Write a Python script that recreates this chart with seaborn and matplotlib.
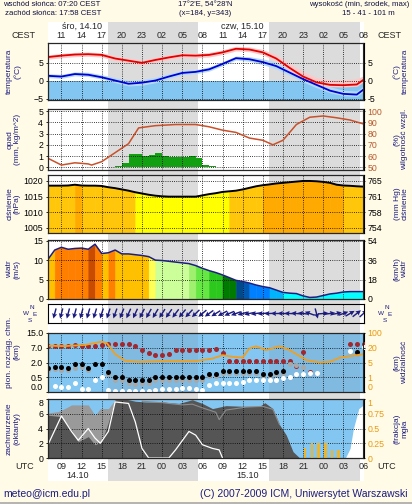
import numpy as np
import matplotlib
matplotlib.use("Agg")
import matplotlib.pyplot as plt
import matplotlib.transforms as mtransforms
from matplotlib.lines import Line2D
import seaborn as sns

sns.set_style("white")
plt.rcParams['font.family'] = ['Liberation Sans', 'DejaVu Sans']
plt.rcParams['font.size'] = 6.3
plt.rcParams['axes.linewidth'] = 0.8

# ------------------------------------------------------------------ data
night_start = [15.97, 39.97]
night_end = [29.4, 53.45]

tick_hours = list(range(9, 55, 3))
cest_labels = ['11', '14', '17', '20', '23', '02', '05', '08',
               '11', '14', '17', '20', '23', '02', '05', '08']
utc_labels = ['09', '12', '15', '18', '21', '00', '03', '06',
              '09', '12', '15', '18', '21', '00', '03', '06']
top_dates = ['śro, 14.10', 'czw, 15.10']
top_date_hours = [12, 36]
bottom_dates = ['14.10', '15.10']
bottom_date_hours = [11.4, 36.8]

# temperature panel
t_hours = [7, 9, 11, 13, 15, 17, 19, 21, 23, 25, 27, 29, 31, 33, 35, 37, 39, 41, 43, 45, 47, 49, 51, 53, 54]
t_air = [6.6, 7.0, 7.3, 7.4, 7.2, 6.2, 5.6, 5.0, 5.8, 6.5, 7.1, 7.0, 7.2, 7.9, 8.9, 8.7, 7.9, 6.2, 3.6, 1.2, -0.4, -1.1, -1.2, -1.0, 0.3]
t_air_hi = [7.2, 7.6, 7.9, 8.0, 7.8, 6.9, 6.3, 5.7, 6.5, 7.2, 7.7, 7.6, 7.9, 8.6, 9.6, 9.4, 8.7, 7.2, 4.8, 2.6, 0.9, 0.3, 0.3, 0.6, 1.4]
t_air_lo = [6.0, 6.4, 6.7, 6.8, 6.6, 5.6, 5.0, 4.4, 5.2, 5.9, 6.5, 6.4, 6.6, 7.3, 8.3, 8.1, 7.2, 5.5, 2.9, 0.4, -1.0, -1.6, -1.7, -1.5, -0.3]
t_dew = [1.4, 1.2, 1.9, 1.7, 1.0, 0.1, -0.8, -0.5, 0.1, 1.2, 2.2, 2.5, 3.2, 4.7, 6.3, 6.0, 5.2, 4.1, 2.3, 0.5, -1.1, -2.7, -3.6, -3.8, -2.4]
t_dew_hi = [2.0, 1.8, 2.5, 2.4, 1.7, 0.9, 0.2, 0.4, 1.0, 2.0, 2.9, 3.1, 3.9, 5.3, 6.9, 6.7, 6.1, 5.2, 3.4, 1.6, 0.0, -1.6, -2.6, -2.8, -1.4]
t_dew_lo = [0.9, 0.7, 1.4, 1.2, 0.5, -0.5, -1.4, -1.2, -0.5, 0.6, 1.7, 2.0, 2.7, 4.2, 5.8, 5.4, 4.5, 3.3, 1.5, -0.3, -1.9, -3.3, -4.1, -4.3, -3.0]

# precipitation / humidity
precip_hours = list(range(16, 36))
precip = [0.05, 0.1, 0.4, 1.15, 1.15, 1.0, 1.1, 1.25, 1.0, 0.9, 0.9, 0.95, 1.0, 0.8, 0.2, 0.15, 0.07, 0.07, 0.07, 0.07]
hum_hours = [7, 9, 11, 13, 13.5, 15, 17, 19, 20.5, 23, 26, 29, 31, 33, 35, 37, 39, 40.5, 42, 44, 46, 48, 50, 52, 54]
humidity = [58, 52, 54, 53, 52, 55, 63, 71, 85, 87, 88, 88, 86, 83, 81, 76, 74, 70, 74, 88, 94.5, 95.6, 94, 92, 88.5]

# pressure (hPa), hourly 07..54
pres_hours = list(range(7, 55))
pressure = [1018.5, 1018.5, 1018.5, 1018.55, 1018.8, 1018.55, 1018.5, 1018.5, 1018.4, 1018.0,
            1017.7, 1017.3, 1016.9, 1016.4, 1016.0, 1015.6, 1015.3, 1015.1, 1015.0, 1015.0,
            1015.0, 1015.0, 1015.0, 1015.4, 1015.8, 1016.1, 1016.5, 1016.7, 1016.9, 1017.3,
            1017.8, 1018.3, 1018.65, 1018.9, 1019.2, 1019.4, 1019.6, 1019.8, 1020.0, 1020.0,
            1019.9, 1019.7, 1019.4, 1018.8, 1018.55, 1018.45, 1018.3, 1018.2]

# wind speed (m/s), hourly 07..54
wind_hours = list(range(7, 55))
wind = [10.2, 12.6, 13.3, 12.8, 13.0, 13.1, 12.8, 14.1, 11.7, 11.9, 12.6, 11.6, 11.6, 11.4, 11.2, 10.9,
        10.0, 9.9, 9.7, 9.5, 9.3, 9.1, 8.6, 7.9, 7.3, 6.8, 6.2, 5.5, 4.8, 4.5, 4.1, 3.6,
        3.2, 2.9, 2.3, 1.7, 1.5, 1.4, 0.8, 0.4, 0.5, 0.9, 1.3, 1.5, 1.8, 1.9, 1.9, 1.9]
wind_bins = [2.0, 3.0, 4.2, 4.5, 5.0, 6.2, 7.5, 8.5, 9.0, 10.0, 11.0, 12.2, 13.4]
wind_cols = ['#00FFFF', '#00B4FF', '#0080FF', '#0058B0', '#004A8C', '#007A00', '#2DC81E',
             '#66E844', '#A0F070', '#CCFF99', '#FFFF55', '#FFC000', '#FF7F00', '#C84B00']

# wind direction (deg, from), hourly 08..54
dir_hours = list(range(8, 55))
wind_dir = [15, 15, 15, 15, 15, 16, 17, 18, 18, 20, 22, 24, 25, 27, 29, 31, 33, 35, 37, 40,
            43, 46, 50, 54, 58, 62, 66, 70, 74, 78, 82, 85, 88, 90, 92, 93, 95, 97, 110, 345,
            265, 262, 258, 250, 240, 232, 228]

# cloud base / vertical extent (km), hourly 07..54
nan = np.nan
cb_hours = list(range(7, 55))
cb_levels = [0.0, 0.5, 2.0, 7.0, 15.0]
cb_labels = ['0.0', '0.5', '2.0', '7.0', '15.0']
cloud_top = [8.0, 8.2, 8.0, 7.7, 8.6, 8.2, 7.7, 8.2, 8.5, 9.2, 9.2, 9.2, 8.8, 8.0, 6.3, 5.1,
             4.6, 4.6, 4.8, 6.1, 6.3, 6.3, 6.3, 6.1, 6.3, 6.5, 5.1, 2.5, 2.5, 2.5, 2.5, 2.5,
             2.5, 2.5, 2.5, 2.5, 2.5, 1.64, 5.6, 1.06, nan, nan, nan, nan, nan, 9.0, 9.2, 9.2]
cloud_base = [1.47, 1.57, 1.5, 1.4, 1.81, 1.81, 1.4, 1.81, 1.81, 1.06, 0.54, 0.54, 0.4, 0.4, 0.4, 0.42,
              0.54, 0.54, 0.54, 0.54, 0.54, 0.54, 0.54, 0.54, 0.78, 0.78, 1.16, 1.16, 1.16, 1.16, 1.16, 1.16,
              0.78, 0.78, 1.06, 1.16, nan, nan, nan, nan, nan, nan, nan, nan, nan, nan, 5.6, nan]
cloud_base2 = [1.25, 1.3, 1.25, 1.2, 1.45, 1.5, 1.2, nan, nan, 0.8, 0.4, 0.4, 0.3, 0.28, 0.3, 0.3,
               0.42, 0.42, 0.42, 0.42, 0.42, 0.42, 0.42, 0.42, 0.6, 0.6, 0.9, 0.9, 0.9, 0.9, 0.9, 0.9,
               0.62, 0.62, 0.85, 0.95, 1.85, 1.7, 1.5, nan, nan, nan, nan, nan, nan, nan, 5.0, nan]
cloud_low = [nan, 0.19, 0.17, 0.17, 0.29, 0.11, 0.11, 0.4, 0.51, 0.057, 0.023, 0.023, 0.023, 0.023, 0.03, 0.023,
             0.057, 0.114, 0.114, 0.114, 0.137, 0.137, 0.114, 0.08, 0.23, 0.29, 0.29, 0.29, 0.29, 0.34, 0.4, 0.4,
             0.4, 0.4, 0.4, 0.46, 0.51, 0.82, 0.82, 0.89, 0.89, nan, nan, nan, nan, 6.0, nan, 7.5]
vis_levels = [0, 1, 5, 20, 100]
vis_hours = [7, 9.5, 12.5, 15, 15.8, 17, 18.5, 20.5, 24, 29, 31.5, 33, 34.5, 36, 37, 38, 39.5, 41.5, 43, 45.5, 47.5, 49, 50.5, 54]
visibility = [31, 29, 35, 53, 44, 13.5, 6.7, 5.7, 6.4, 6.4, 9, 12.5, 10.8, 10, 19.3, 28, 17.6, 28, 17.6, 7.4, 5, 5.7, 10, 13.5]

# cloud cover (octants)
cov_low_hours = [7, 9, 10.5, 11.5, 13, 14, 15, 16, 17, 18.5, 20, 21.5, 24, 26.5, 28.5, 30, 31.5, 33.5, 36.5, 38.5, 39.3, 40.5, 41.5, 42.5, 43.5, 44.5, 54]
cov_low = [5.8, 5.6, 3.8, 2.2, 2.9, 1.8, 2.2, 4.9, 7.9, 8.0, 7.7, 7.6, 7.6, 7.4, 7.9, 7.4, 6.7, 7.1, 7.0, 7.0, 7.5, 6.7, 4.5, 3.1, 0.86, 0.0, 0.0]
cov_tot_hours = [7, 8.5, 9.5, 10.5, 13, 14, 14.8, 16, 17, 18.5]
cov_tot = [6.1, 6.3, 6.7, 7.2, 7.2, 5.8, 6.7, 6.7, 7.9, 8.0]
cov_mid_hours = [21, 24, 27, 28.5, 30, 32, 32.5, 33.5, 36.5, 39, 40.5, 41.5]
cov_mid = [7.7, 7.5, 7.2, 7.3, 6.8, 6.2, 5.2, 6.5, 6.9, 7.0, 6.6, 4.5]
cov_white_hours = [7, 9, 10.5, 11.5, 13, 14, 14.8, 16, 17, 19, 20, 21, 22, 25, 26, 28, 29, 30, 31.5, 32.5, 33]
cov_white = [1.8, 5.7, 3.6, 2.4, 4.0, 2.7, 2.0, 3.6, 7.6, 7.4, 4.9, 1.3, 0.0, 0.0, 1.1, 3.6, 3.1, 1.8, 1.3, 1.1, 0.0]
snow_hours = [51.3, 52, 52.5, 53.3, 54]
snow = [0.0, 1.3, 4.0, 6.7, 7.2]
fog_hours = [45.3, 46.3, 47.3, 48.3, 49.3, 50.3]
fog = [0.17, 0.25, 0.25, 0.25, 0.14, 0.14]

for a, b in [(t_hours, t_air), (t_hours, t_dew), (t_hours, t_air_hi), (t_hours, t_air_lo),
             (t_hours, t_dew_hi), (t_hours, t_dew_lo), (precip_hours, precip), (hum_hours, humidity),
             (pres_hours, pressure), (wind_hours, wind), (dir_hours, wind_dir), (cb_hours, cloud_top),
             (cb_hours, cloud_base), (cb_hours, cloud_base2), (cb_hours, cloud_low), (vis_hours, visibility),
             (cov_low_hours, cov_low), (cov_tot_hours, cov_tot), (cov_mid_hours, cov_mid),
             (cov_white_hours, cov_white), (snow_hours, snow), (fog_hours, fog)]:
    assert len(a) == len(b), (len(a), len(b))

# ------------------------------------------------------------------ layout
W, H = 412, 504
BG = '#FFFBE7'
NAVY = '#1C1C80'
NIGHT = '#DCDCDC'
SKY = '#84C6F2'
L, R = 48, 363.5
XL = (7, 54)

fig = plt.figure(figsize=(W / 100, H / 100), dpi=100, facecolor=BG)


def px_ax(top, bottom):
    return fig.add_axes([L / W, 1 - bottom / H, (R - L) / W, (bottom - top) / H])


def yf(py):
    return 1 - py / H


def setup(ax, ylim, yticks, labels=None):
    ax.set_xlim(*XL)
    ax.set_ylim(*ylim)
    ax.set_xticks(tick_hours)
    ax.set_xticklabels([])
    ax.set_yticks(yticks)
    if labels is not None:
        ax.set_yticklabels(labels)
    ax.tick_params(axis='x', length=0)
    ax.tick_params(axis='y', length=1.5, width=0.6, pad=2, labelsize=6.3, colors='black')
    ax.grid(True, color='black', linestyle=(0, (1, 1.6)), linewidth=0.6)
    ax.set_axisbelow('line')
    for s in ax.spines.values():
        s.set_visible(True)
        s.set_color('black')
        s.set_linewidth(0.8)
    ax.set_xlabel('')
    ax.set_ylabel('')


def twin(ax, ylim, yticks, labels, color='black'):
    t = ax.twinx()
    t.set_ylim(*ylim)
    t.set_yticks(yticks)
    t.set_yticklabels(labels)
    t.tick_params(axis='y', length=1.5, width=0.6, pad=1.5, labelsize=6.3,
                  labelcolor=color, color='black')
    t.grid(False)
    return t


# background column (day white / night grey)
ax_bg = px_ax(22, 481)
ax_bg.set_facecolor('white')
ax_bg.set_xlim(*XL)
ax_bg.set_ylim(0, 1)
ax_bg.set_xticks([])
ax_bg.set_yticks([])
for s in ax_bg.spines.values():
    s.set_visible(False)
for s, e in zip(night_start, night_end):
    ax_bg.axvspan(s, e, color=NIGHT, lw=0)
blend = mtransforms.blended_transform_factory(ax_bg.transData, fig.transFigure)

# ---- panel 1: temperature
ax1 = px_ax(43, 100)
ax1.set_facecolor('none')
ax1.fill_between(XL, -5.3, 0, color=SKY, lw=0)
ax1.fill_between(t_hours, t_dew_lo, t_dew_hi, color='#B4DAFA', lw=0)
ax1.fill_between(t_hours, t_air_lo, t_air_hi, color='#FFC8C8', lw=0)
sns.lineplot(x=t_hours, y=t_dew, ax=ax1, color='#0000D0', lw=1.3)
sns.lineplot(x=t_hours, y=t_air, ax=ax1, color='#E00000', lw=1.3)
setup(ax1, (-5.3, 10.5), [-5, 0, 5])
twin(ax1, (-5.3, 10.5), [-5, 0, 5], ['-5', '0', '5'])

# ---- panel 2: precipitation + humidity
ax2 = px_ax(109, 170)
ax2.set_facecolor('none')
ax2.bar(precip_hours, precip, width=1, align='edge', color='#12A012', lw=0)
setup(ax2, (-0.24, 5.18), [0, 1, 2, 3, 4, 5])
tw2 = twin(ax2, (47.6, 101.8), [50, 60, 70, 80, 90, 100],
           ['50', '60', '70', '80', '90', '100'], color='#B85A30')
sns.lineplot(x=hum_hours, y=humidity, ax=tw2, color='#C8502A', lw=1.1)
tw2.set_ylim(47.6, 101.8)
tw2.set_ylabel('')

# ---- panel 3: pressure
ax3 = px_ax(175, 233)
ax3.set_facecolor('none')
P_BOT = 1003.4


def pres_color(p):
    if p >= 1018.6:
        return '#FFAA00'
    if p >= 1016.6:
        return '#FFC60A'
    return '#FFFF00'


for i in range(len(pres_hours) - 1):
    c = pres_color(pressure[i])
    ax3.fill_between(pres_hours[i:i + 2], P_BOT, pressure[i:i + 2], facecolor=c,
                     edgecolor=c, lw=0.4)
sns.lineplot(x=pres_hours, y=pressure, ax=ax3, color='black', lw=1.4)
setup(ax3, (P_BOT, 1021.9), [1005, 1010, 1015, 1020])
p_ticks = [1005, 1010, 1015, 1020]
twin(ax3, (P_BOT, 1021.9), p_ticks, [str(int(round(p * 0.750062))) for p in p_ticks])

# ---- panel 4: wind speed
ax4 = px_ax(240, 299)
ax4.set_facecolor('none')
for i in range(len(wind_hours) - 1):
    m = 0.5 * (wind[i] + wind[i + 1])
    c = wind_cols[int(np.searchsorted(wind_bins, m, side='right'))]
    ax4.fill_between(wind_hours[i:i + 2], 0, wind[i:i + 2], facecolor=c, edgecolor=c, lw=0.4)
sns.lineplot(x=wind_hours, y=wind, ax=ax4, color='#1E1E80', lw=1.1)
setup(ax4, (0, 15.18), [0, 5, 10, 15])
twin(ax4, (0, 15.18 * 3.6), [0, 18, 36, 54], ['0', '18', '36', '54'])

# ---- panel 5: wind direction
ax5 = px_ax(304, 323)
ax5.set_facecolor('none')
setup(ax5, (-1, 1), [])
rad = np.deg2rad(np.array(wind_dir, dtype=float))
ax5.quiver(dir_hours, np.zeros(len(dir_hours)), -np.sin(rad), -np.cos(rad),
           color=NAVY, pivot='middle', scale_units='inches', scale=1 / 0.105,
           width=0.0045, headwidth=3.6, headlength=3.6, headaxislength=3.2, zorder=3)

# ---- panel 6: cloud base / visibility
ax6 = px_ax(333, 392)
ax6.set_facecolor(SKY)
ax6.set_yscale('function', functions=(lambda v: np.interp(v, cb_levels, [0, 1, 2, 3, 4]),
                                      lambda i: np.interp(i, [0, 1, 2, 3, 4], cb_levels)))
for s, e in zip(night_start, night_end):
    ax6.axvspan(s, e, color='#707070', alpha=0.13, lw=0, zorder=0.5)
for vals, col in [(cloud_top, '#A0282E'), (cloud_base2, '#A8A8A8'),
                  (cloud_base, '#000000'), (cloud_low, '#FFFFFF')]:
    sns.scatterplot(x=cb_hours, y=vals, ax=ax6, color=col, s=13, linewidth=0, zorder=3)
setup(ax6, (0, 15), cb_levels, cb_labels)
ax6.get_yticklabels()[0].set_verticalalignment('bottom')
tw6 = ax6.twinx()
tw6.set_yscale('function', functions=(lambda v: np.interp(v, vis_levels, [0, 1, 2, 3, 4]),
                                      lambda i: np.interp(i, [0, 1, 2, 3, 4], vis_levels)))
tw6.set_ylim(0, 100)
tw6.plot(vis_hours, visibility, color='#F0A020', lw=1.3)
tw6.set_ylim(0, 100)
tw6.set_yticks(vis_levels)
tw6.set_yticklabels([str(v) for v in vis_levels])
tw6.tick_params(axis='y', length=1.5, width=0.6, pad=1.5, labelsize=6.3,
                labelcolor='#E89A10', color='black')
tw6.get_yticklabels()[0].set_verticalalignment('bottom')

# ---- panel 7: cloud cover / fog
ax7 = px_ax(399, 458)
ax7.set_facecolor(SKY)
ax7.fill_between(cov_tot_hours, 0, cov_tot, color='#9A9A9A', lw=0)
ax7.fill_between(cov_low_hours, 0, cov_low, color='#555555', lw=0)
sns.lineplot(x=cov_mid_hours, y=cov_mid, ax=ax7, color='#8C8C8C', lw=0.8)
ax7.fill_between(snow_hours, 0, snow, color='white', lw=0)
sns.lineplot(x=cov_white_hours, y=cov_white, ax=ax7, color='white', lw=0.9)
setup(ax7, (0, 8), [0, 2, 4, 6, 8])
ax7.get_yticklabels()[-1].set_verticalalignment('top')
tw7 = twin(ax7, (0, 1), [0, 0.25, 0.5, 0.75, 1], ['0', '0.25', '0.5', '0.75', '1'], color='#E89A10')
tw7.bar(fog_hours, fog, width=0.38, color='#F0B428', lw=0)
tw7.set_ylim(0, 1)
tw7.get_yticklabels()[-1].set_verticalalignment('top')

# ------------------------------------------------------------------ texts
for h, lab in zip(tick_hours, cest_labels):
    ax_bg.text(h, yf(35.5), lab, transform=blend, ha='center', va='center', fontsize=6.5)
for h, lab in zip(top_date_hours, top_dates):
    ax_bg.text(h, yf(26.5), lab, transform=blend, ha='center', va='center', fontsize=6.5)
for h, lab in zip(tick_hours, utc_labels):
    ax_bg.text(h, yf(466.5), lab, transform=blend, ha='center', va='center', fontsize=6.5)
for h, lab in zip(bottom_date_hours, bottom_dates):
    ax_bg.text(h, yf(475.5), lab, transform=blend, ha='center', va='center', fontsize=6.5)

fig.text(23.5 / W, yf(35.5), 'CEST', ha='center', va='center', fontsize=6.5)
fig.text(390 / W, yf(35.5), 'CEST', ha='center', va='center', fontsize=6.5)
fig.text(25 / W, yf(466.5), 'UTC', ha='center', va='center', fontsize=6.5)
fig.text(387 / W, yf(466.5), 'UTC', ha='center', va='center', fontsize=6.5)

HDR = '#101040'
HFS = 5.6
fig.text(52 / W, yf(5), 'wschód słońca: 07:20 CEST', ha='center', va='center', fontsize=HFS, color=HDR)
fig.text(53 / W, yf(13.3), 'zachód słońca: 17:58 CEST', ha='center', va='center', fontsize=HFS, color=HDR)
fig.text(205 / W, yf(5), "17°2'E, 54°28'N", ha='center', va='center', fontsize=HFS, color=HDR)
fig.text(205 / W, yf(13.3), '(x=184, y=343)', ha='center', va='center', fontsize=HFS, color=HDR)
fig.text(409 / W, yf(5), 'wysokość (min, środek, max)', ha='right', va='center', fontsize=HFS, color=HDR)
fig.text(368 / W, yf(13.3), '15 - 41 - 101 m', ha='center', va='center', fontsize=HFS, color=HDR)

left_labels = [('temperatura\n(°C)', 71.5), ('opad\n(mm, kg/m^2)', 139.5),
               ('ciśnienie\n(hPa)', 204), ('wiatr\n(m/s)', 269.5),
               ('pion. rozciąg. chm.\n(km)', 352), ('zachmurzenie\n(oktanty)', 428.5)]
right_labels = [('(°C)\ntemperatura', 71.5), ('(%)\nwilgotność wzgl.', 139.5),
                ('(mm Hg)\nciśnienie', 204), ('(km/h)\nwiatr', 269.5),
                ('(km)\nwidzialność', 362.5), ('(frakcja)\nmgła', 428.5)]
for txt, y in left_labels:
    fig.text(13.5 / W, yf(y), txt, rotation=90, ha='center', va='center', fontsize=6,
             color=NAVY, multialignment='center', linespacing=1.15)
for txt, y in right_labels:
    fig.text(401 / W, yf(y), txt, rotation=90, ha='center', va='center', fontsize=6,
             color=NAVY, multialignment='center', linespacing=1.15)

# compass roses beside wind direction panel
for cx in (29.5, 384.5):
    for dx, dy, letter in [(2.0, -6.0, 'N'), (-4.0, 0.0, 'W'), (5.0, 1.5, 'E'), (0.0, 6.5, 'S')]:
        fig.text((cx + dx) / W, yf(313.5 + dy), letter, ha='center', va='center',
                 fontsize=4.6, color=NAVY)

fig.text(3 / W, yf(494), 'meteo@icm.edu.pl', ha='left', va='center', fontsize=7.5, color=NAVY)
fig.text(408 / W, yf(494), '(C) 2007-2009 ICM, Uniwersytet Warszawski', ha='right', va='center',
         fontsize=7.5, color=NAVY)
fig.add_artist(Line2D([0, 1], [yf(502.5), yf(502.5)], color='#A8A8A8', lw=1.2,
                      transform=fig.transFigure))

fig.savefig('out.png', dpi=100, facecolor=BG)
